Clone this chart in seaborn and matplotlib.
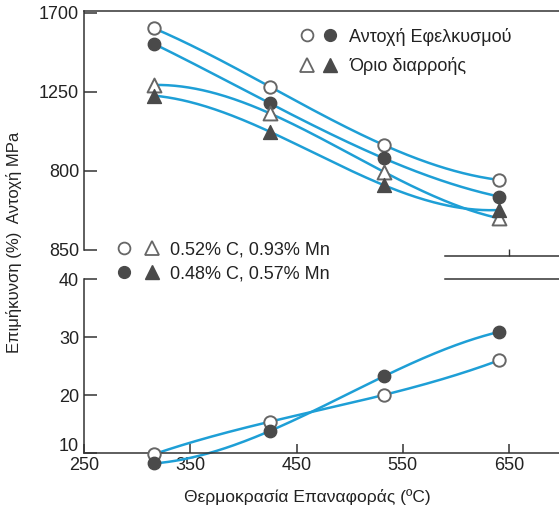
import numpy as np
import matplotlib
matplotlib.use("Agg")
import matplotlib.pyplot as plt
import matplotlib.transforms as mtransforms
import seaborn as sns
from matplotlib.lines import Line2D
from matplotlib.legend_handler import HandlerTuple

# Tempering temperature (°C)
temps = [316, 425, 532, 641]

# Tensile strength (MPa)
uts_a = [1612, 1279, 947, 747]    # 0.52% C, 0.93% Mn
uts_b = [1523, 1184, 871, 652]    # 0.48% C, 0.57% Mn
# Yield strength (MPa)
ys_a = [1289, 1127, 794, 528]
ys_b = [1228, 1022, 718, 576]
# Elongation (%)
elong_a = [9.8, 15.4, 20.0, 26.0]
elong_b = [8.2, 13.8, 23.2, 30.9]

strength_ticks = [350, 800, 1250, 1700]
strength_ticklabels = ["850", "800", "1250", "1700"]
elong_ticks = [10, 20, 30, 40]
temp_ticks = [250, 350, 450, 550, 650]

legend_strength = ["Αντοχή Εφελκυσμού", "Όριο διαρροής"]
legend_steel = ["0.52% C, 0.93% Mn", "0.48% C, 0.57% Mn"]

sns.set_theme(style="white")
plt.rcParams["font.family"] = ["Liberation Sans", "DejaVu Sans"]

LINE = "#1e9fd6"
DARK = "#4a4a4a"
EDGE = "#666666"
AXC = "#333333"
TXT = "#222222"

W, H = 559, 511
fig = plt.figure(figsize=(W / 100, H / 100), dpi=100)
ax_top = fig.add_axes([84 / W, 1 - 256 / H, 1 - 84 / W, (256 - 11) / H])
ax_bot = fig.add_axes([84 / W, 1 - 453 / H, 1 - 84 / W, (453 - 279) / H])

XMAX = 250 + (W - 84) / 1.0625


def smooth(x, y):
    gx = np.linspace(min(x), max(x), 200)
    return gx, np.polyval(np.polyfit(x, y, 3), gx)


def draw_series(ax, y, marker, filled, size):
    gx, gy = smooth(temps, y)
    sns.lineplot(x=gx, y=gy, ax=ax, color=LINE, lw=1.8, clip_on=False, zorder=2)
    if filled:
        sns.scatterplot(x=temps, y=y, ax=ax, marker=marker, s=size, color=DARK,
                        edgecolor=DARK, linewidth=1.0, clip_on=False, zorder=3)
    else:
        sns.scatterplot(x=temps, y=y, ax=ax, marker=marker, s=size, color="white",
                        edgecolor=EDGE, linewidth=1.4, clip_on=False, zorder=3)


# strength panel
draw_series(ax_top, uts_a, "o", False, 80)
draw_series(ax_top, uts_b, "o", True, 80)
draw_series(ax_top, ys_a, "^", False, 100)
draw_series(ax_top, ys_b, "^", True, 100)

ax_top.set_xlim(250, XMAX)
ax_top.set_ylim(313.5, 1710.8)
ax_top.set_yticks(strength_ticks)
ax_top.set_yticklabels(strength_ticklabels)
ax_top.set_xticks([650])
ax_top.set_xticklabels([""])
ax_top.spines["right"].set_visible(False)
ax_top.spines["left"].set_bounds(350, 1710.8)
ax_top.spines["bottom"].set_bounds(590, XMAX)
ax_top.tick_params(axis="y", left=True, direction="in", length=9.5, width=1.1,
                   pad=3.5, labelsize=13, color=AXC, labelcolor=TXT)
ax_top.tick_params(axis="x", bottom=True, direction="in", length=5, width=1.0,
                   color=AXC)

# elongation panel
draw_series(ax_bot, elong_a, "o", False, 80)
draw_series(ax_bot, elong_b, "o", True, 80)

ax_bot.set_xlim(250, XMAX)
ax_bot.set_ylim(10, 40)
ax_bot.set_yticks(elong_ticks)
ax_bot.set_xticks(temp_ticks)
ax_bot.spines["right"].set_visible(False)
ax_bot.spines["left"].set_bounds(10, 40)
ax_bot.spines["top"].set_bounds(590, XMAX)
ax_bot.tick_params(axis="y", left=True, direction="in", length=9.5, width=1.1,
                   pad=3.5, labelsize=13, color=AXC, labelcolor=TXT)
ax_bot.tick_params(axis="x", bottom=True, direction="in", length=6.7, width=1.1,
                   pad=3, labelsize=13, color=AXC, labelcolor=TXT)

# lift the lowest elongation label clear of the temperature labels
fig.canvas.draw()
lift = mtransforms.ScaledTranslation(0, 6 / 72, fig.dpi_scale_trans)
low_label = ax_bot.get_yticklabels()[0]
low_label.set_transform(low_label.get_transform() + lift)

for ax in (ax_top, ax_bot):
    ax.set_xlabel("")
    ax.set_ylabel("")
    ax.patch.set_alpha(0)
    for sp in ax.spines.values():
        sp.set_color(AXC)
        sp.set_linewidth(1.1)

# legends
oc = Line2D([], [], ls="none", marker="o", ms=8.5, mfc="white", mec=EDGE, mew=1.3)
fc = Line2D([], [], ls="none", marker="o", ms=8.5, mfc=DARK, mec=DARK)
ot = Line2D([], [], ls="none", marker="^", ms=10, mfc="white", mec=EDGE, mew=1.3)
ft = Line2D([], [], ls="none", marker="^", ms=10, mfc=DARK, mec=DARK)

fig.legend(handles=[(oc, fc), (ot, ft)], labels=legend_strength,
           handler_map={tuple: HandlerTuple(ndivide=None, pad=0)},
           loc="center left", bbox_to_anchor=(295.5 / W, 1 - 51.5 / H),
           frameon=False, borderpad=0, borderaxespad=0, handlelength=2.55,
           handletextpad=0.42, labelspacing=0.66, fontsize=13,
           labelcolor=TXT)

fig.legend(handles=[(oc, ot), (fc, ft)], labels=legend_steel,
           handler_map={tuple: HandlerTuple(ndivide=None, pad=0)},
           loc="center left", bbox_to_anchor=(110 / W, 1 - 262 / H),
           frameon=False, borderpad=0, borderaxespad=0, handlelength=3.1,
           handletextpad=0.22, labelspacing=0.39, fontsize=13,
           labelcolor=TXT)

fig.text(14 / W, 1 - 242 / H, "Επιμήκυνση (%)  Αντοχή MPa", rotation=90,
         ha="center", va="center", fontsize=12, color=TXT)
fig.text(307 / W, 1 - 497 / H, "Θερμοκρασία Επαναφοράς (ºC)", ha="center",
         va="center", fontsize=12.5, color=TXT)

fig.savefig("out.png", dpi=100)
